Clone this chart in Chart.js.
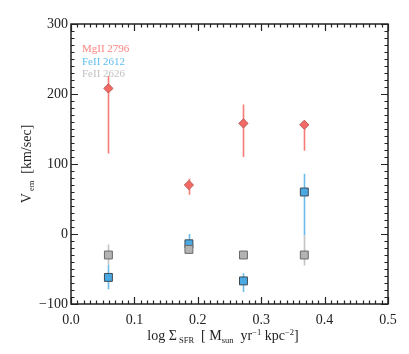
<!DOCTYPE html>
<html>
<head>
<meta charset="utf-8">
<script src="https://cdn.jsdelivr.net/npm/chart.js@4.4.0/dist/chart.umd.min.js"></script>
<style>
html,body{margin:0;padding:0;background:#fff;}
</style>
</head>
<body>
<canvas id="chart" width="409" height="354"></canvas>
<script>
// log Sigma_SFR positions (same for every line)
const sfr = [0.059, 0.186, 0.272, 0.368];

// MgII 2796
const mg2796 = [208, 70, 158, 156];
const mg2796Lo = [115, 56, 110, 119];
const mg2796Hi = [226, 79, 185, 162];

// FeII 2612
const fe2612 = [-62, -14, -67, 60];
const fe2612Lo = [-79, -20, -83, -2];
const fe2612Hi = [-44, 0, -56, 86];

// FeII 2626
const fe2626 = [-30, -22, -30, -30];
const fe2626Lo = [-44, -28, -30, -45];
const fe2626Hi = [-15, -22, -30, -2];

const legendLabels = ['MgII 2796', 'FeII 2612', 'FeII 2626'];
const serif = '"Liberation Serif", "DejaVu Serif", serif';

const series = [
    {label: legendLabels[0], y: mg2796, lo: mg2796Lo, hi: mg2796Hi, fill: '#f26a63', edge: '#b85a55', bar: '#f77b76', text: '#fb8580', shape: 'rectRot', r: 4.6, order: 3},
    {label: legendLabels[1], y: fe2612, lo: fe2612Lo, hi: fe2612Hi, fill: '#4aa9e2', edge: '#3d4a55', bar: '#6cbbe8', text: '#62bdf0', shape: 'rect', r: 5.6, order: 2},
    {label: legendLabels[2], y: fe2626, lo: fe2626Lo, hi: fe2626Hi, fill: '#b3b3b3', edge: '#6a6a6a', bar: '#c4c4c4', text: '#c2c2c2', shape: 'rect', r: 5.6, order: 1}
];

function toPoints(ys){
    return ys.map((v, i) => ({x: sfr[i], y: v}));
}

// draws text made of pieces with sub/superscripts
function drawParts(ctx, parts, x, y){
    let w = 0;
    parts.forEach(p => {
        ctx.font = p.s + 'px ' + serif;
        w += ctx.measureText(p.t).width;
    });
    let cx = x - w / 2;
    parts.forEach(p => {
        ctx.font = p.s + 'px ' + serif;
        ctx.fillText(p.t, cx, y + (p.dy || 0));
        cx += ctx.measureText(p.t).width;
    });
}

const errorBars = {
    id: 'errorBars',
    beforeDatasetsDraw(chart){
        const ctx = chart.ctx;
        const xs = chart.scales.x, ys = chart.scales.y;
        ctx.save();
        series.forEach(s => {
            ctx.strokeStyle = s.bar;
            ctx.lineWidth = 1.6;
            sfr.forEach((xv, i) => {
                if (s.lo[i] === s.hi[i]) return;
                const px = Math.round(xs.getPixelForValue(xv)) + 0.5;
                ctx.beginPath();
                ctx.moveTo(px, ys.getPixelForValue(s.lo[i]));
                ctx.lineTo(px, ys.getPixelForValue(s.hi[i]));
                ctx.stroke();
            });
        });
        ctx.restore();
    }
};

const frame = {
    id: 'frame',
    afterDraw(chart){
        const ctx = chart.ctx;
        const a = chart.chartArea;
        const xs = chart.scales.x, ys = chart.scales.y;
        ctx.save();
        ctx.strokeStyle = '#222';
        ctx.lineWidth = 1.5;
        ctx.strokeRect(a.left, a.top, a.right - a.left, a.bottom - a.top);

        ctx.lineWidth = 1.2;
        ctx.beginPath();
        for (let k = 0; k <= 50; k++){
            const px = Math.round(xs.getPixelForValue(k / 100)) + 0.5;
            const len = k % 10 === 0 ? 7 : 3.5;
            ctx.moveTo(px, a.bottom); ctx.lineTo(px, a.bottom - len);
            ctx.moveTo(px, a.top); ctx.lineTo(px, a.top + len);
        }
        for (let v = -100; v <= 300; v += 10){
            const py = Math.round(ys.getPixelForValue(v)) + 0.5;
            const len = v % 100 === 0 ? 7 : 3.5;
            ctx.moveTo(a.left, py); ctx.lineTo(a.left + len, py);
            ctx.moveTo(a.right, py); ctx.lineTo(a.right - len, py);
        }
        ctx.stroke();

        // labels in the corner
        ctx.textBaseline = 'alphabetic';
        ctx.textAlign = 'left';
        ctx.font = '11px ' + serif;
        series.forEach((s, i) => {
            ctx.fillStyle = s.text;
            ctx.fillText(s.label, 82, 52 + i * 12.7);
        });

        // axis titles
        ctx.fillStyle = '#222';
        drawParts(ctx, [
            {t: 'log \u03a3', s: 14},
            {t: ' SFR', s: 8.5, dy: 3},
            {t: '  [ M', s: 14},
            {t: 'sun', s: 8.5, dy: 3},
            {t: '  yr', s: 14},
            {t: '\u22121', s: 8.5, dy: -5},
            {t: ' kpc', s: 14},
            {t: '\u22122', s: 8.5, dy: -5},
            {t: ']', s: 14}
        ], 223, 340);

        ctx.translate(31, 164);
        ctx.rotate(-Math.PI / 2);
        drawParts(ctx, [
            {t: 'V', s: 14},
            {t: ' em', s: 8.5, dy: 3},
            {t: '  [km/sec]', s: 14}
        ], 0, 0);
        ctx.restore();
    }
};

new Chart(document.getElementById('chart'), {
    type: 'scatter',
    data: {
        datasets: series.map(s => ({
            label: s.label,
            data: toPoints(s.y),
            pointStyle: s.shape,
            pointRadius: s.r,
            pointHoverRadius: s.r,
            backgroundColor: s.fill,
            borderColor: s.edge,
            borderWidth: 1,
            order: s.order
        }))
    },
    options: {
        responsive: false,
        animation: false,
        layout: {padding: {left: 0, right: 21, top: 24, bottom: 0}},
        plugins: {legend: {display: false}, tooltip: {enabled: false}},
        scales: {
            x: {
                type: 'linear',
                min: 0, max: 0.5,
                afterFit(scale){ scale.height = 50; },
                grid: {display: false, drawTicks: false},
                border: {display: false},
                ticks: {
                    stepSize: 0.1,
                    padding: 8,
                    color: '#222',
                    font: {family: serif, size: 14},
                    callback: v => v.toFixed(1)
                }
            },
            y: {
                min: -100, max: 300,
                afterFit(scale){ scale.width = 71; },
                grid: {display: false, drawTicks: false},
                border: {display: false},
                ticks: {
                    stepSize: 100,
                    padding: 3,
                    color: '#222',
                    font: {family: serif, size: 14},
                    callback: v => String(v).replace('-', '\u2212')
                }
            }
        }
    },
    plugins: [errorBars, frame]
});
</script>
</body>
</html>
